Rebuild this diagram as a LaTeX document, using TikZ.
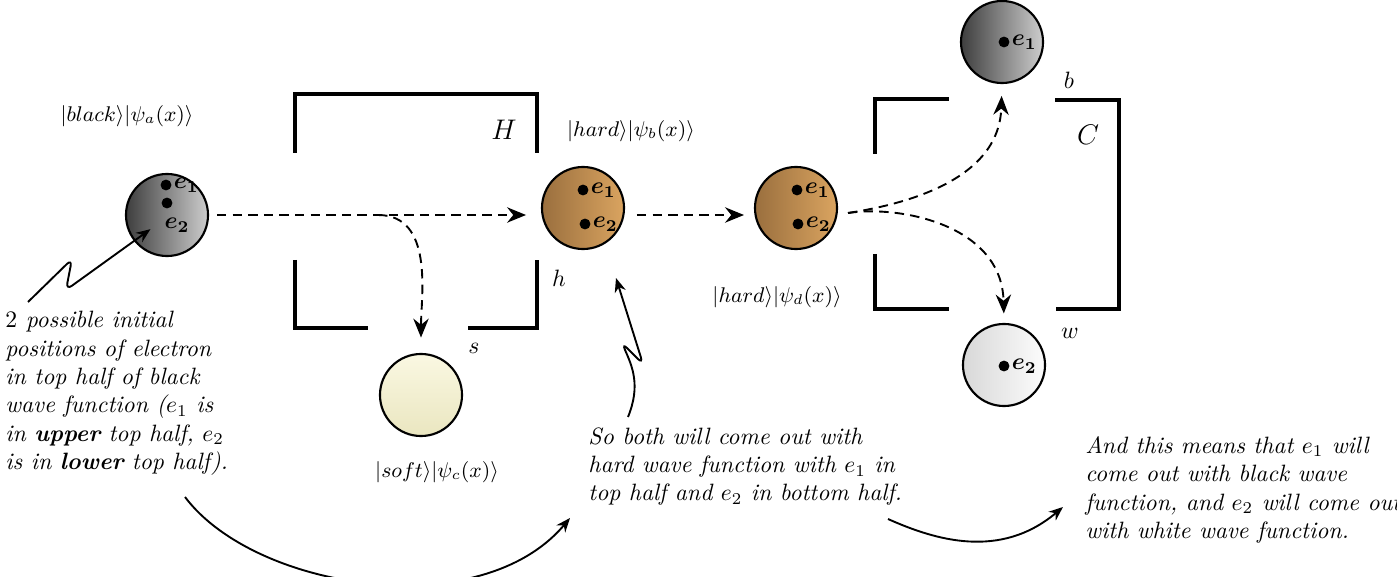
\documentclass[tikz,border=0pt]{standalone}
\usepackage{bm}
\usetikzlibrary{arrows.meta}
\definecolor{blackL}{HTML}{3E3E3E}
\definecolor{blackR}{HTML}{CDCDCD}
\definecolor{brownL}{HTML}{9A6F3E}
\definecolor{brownR}{HTML}{DAA460}
\definecolor{softT}{HTML}{FAF8E2}
\definecolor{softB}{HTML}{EAE6C0}
\definecolor{whiteL}{HTML}{D8D8D8}
\definecolor{whiteR}{HTML}{FCFCFC}
\tikzset{
  ball/.style={circle, draw, line width=0.9pt, minimum size=34.7pt, inner sep=0pt},
  dot/.style={circle, fill=black, inner sep=0pt, minimum size=4.6pt},
  elab/.style={inner sep=0.6pt, anchor=west},
  wall/.style={line width=2pt},
  flow/.style={line width=0.8pt, dash pattern=on 4pt off 2.6pt, -{Stealth[length=8pt,width=6.5pt]}},
  remark/.style={line width=0.8pt, -{Stealth[length=6pt,width=4.8pt]}},
  note/.style={anchor=north west, align=left, inner sep=0pt, font=\itshape},
  tag/.style={inner sep=0pt},
  boxname/.style={inner sep=0pt, font=\large},
  state/.style={inner sep=0pt, font=\small}
}
\begin{document}
\begin{tikzpicture}[x=0.423pt, y=-0.423pt]
\useasboundingbox (0,0) rectangle (1397,577);

% ---- analysers: hardness box H and colour box C ----
\draw[wall] (295,153) -- (295,94) -- (537,94) -- (537,153);
\draw[wall] (295,260) -- (295,328) -- (368,328);
\draw[wall] (468,328) -- (537,328) -- (537,260);
\node[boxname] (Hlab) at (504,130) {$H$};
\node[tag] (hlab) at (559,278) {$h$};
\node[tag] (slab) at (474,348) {$s$};

\draw[wall] (875,154) -- (875,99) -- (949,99);
\draw[wall] (1055,100) -- (1119,100) -- (1119,309) -- (1056,309);
\draw[wall] (875,254) -- (875,309) -- (949,309);
\node[boxname] (Clab) at (1088,135) {$C$};
\node[tag] (blab) at (1069,80) {$b$};
\node[tag] (wlab) at (1070,333) {$w$};

% ---- electron states ----
\node[ball, left color=blackL, right color=blackR] (A) at (167,215) {};
\node[dot] (A1) at (166,185) {};
\node[elab] at (A1.east) {$\bm{e_1}$};
\node[dot] (A2) at (167,203) {};
\node[tag] (A2lab) at (177,225) {$\bm{e_2}$};
\node[state] (Alab) at (127,116) {$|black\rangle|\psi_a(x)\rangle$};

\node[ball, left color=brownL, right color=brownR] (B) at (583,208) {};
\node[dot] (B1) at (583,190) {};
\node[elab] at (B1.east) {$\bm{e_1}$};
\node[dot] (B2) at (585,224) {};
\node[elab] at (B2.east) {$\bm{e_2}$};
\node[state] (Blab) at (631,131) {$|hard\rangle|\psi_b(x)\rangle$};

\node[ball, top color=softT, bottom color=softB] (S) at (421,395) {};
\node[state] (Slab) at (437,472) {$|soft\rangle|\psi_c(x)\rangle$};

\node[ball, left color=brownL, right color=brownR] (D) at (796,208) {};
\node[dot] (D1) at (797,190) {};
\node[elab] at (D1.east) {$\bm{e_1}$};
\node[dot] (D2) at (798,224) {};
\node[elab] at (D2.east) {$\bm{e_2}$};
\node[state] (Dlab) at (777,297) {$|hard\rangle|\psi_d(x)\rangle$};

\node[ball, left color=blackL, right color=blackR] (K) at (1002,42) {};
\node[dot] (K1) at (1004,42) {};
\node[elab] at (K1.east) {$\bm{e_1}$};

\node[ball, left color=whiteL, right color=whiteR] (W) at (1004,365) {};
\node[dot] (W1) at (1004,366) {};
\node[elab] at (W1.east) {$\bm{e_2}$};

% ---- paths of the electron ----
\coordinate (Aout) at (217,215);
\coordinate (splitH) at (378,215);
\draw[flow, shorten >=6.3pt] (Aout) -- (A.east -| B.west);
\draw[flow, shorten >=6.5pt] (splitH) to[out=0, in=90] (S.north);
\draw[flow, shorten <=5pt, shorten >=4.2pt] (B.east |- Aout) -- (D.west |- Aout);
\coordinate (Dout) at (848,213);
\draw[flow, shorten >=5pt] (Dout) .. controls (900,205) and (999,182) .. (K.south);
\draw[flow, shorten >=4pt] (Dout) .. controls (900,205) and (1002,225) .. (W.north);

% ---- explanations ----
\node[note] (n1) at (5,311) {\textup{2} possible initial\\ positions of electron\\ in top half of black\\ wave function ($e_1$ is\\ in \textbf{upper} top half, $e_2$\\ is in \textbf{lower} top half).};
\node[note] (n2) at (588,427) {So both will come out with\\ hard wave function with $e_1$ in\\ top half and $e_2$ in bottom half.};
\node[note] (n3) at (1085,436) {And this means that $e_1$ will\\ come out with black wave\\ function, and $e_2$ will come out\\ with white wave function.};

\coordinate (n1top) at (28,302);
\coordinate (n1bot) at (185,497);
\coordinate (n2top) at (628,417);
\coordinate (n2in) at (570,518);
\coordinate (n2out) at (888,519);
\coordinate (n3in) at (1063,507);
\coordinate (Bbelow) at (616,278);

\draw[remark, rounded corners=3pt] (n1top) -- (72,259) -- (66,290) -- ([xshift=-7pt,yshift=-6pt]A.center);
\draw[remark, rounded corners=3pt] (n2top) .. controls (641,385) and (632,366) .. (622,343) -- (643,364) -- (Bbelow);
\draw[remark] (n1bot) .. controls (255,590) and (480,625) .. (n2in);
\draw[remark] (n2out) .. controls (935,540) and (1000,560) .. (n3in);
\end{tikzpicture}
\end{document}
